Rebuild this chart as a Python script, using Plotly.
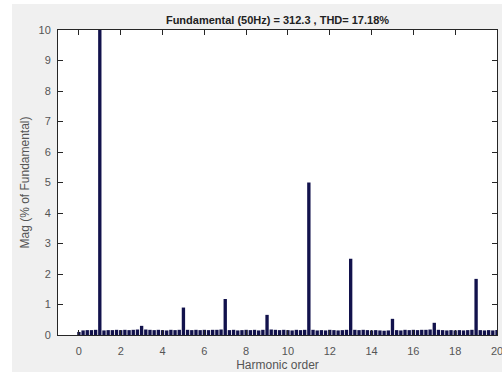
import plotly.graph_objects as go

# Harmonic order (0 to 20, step 0.2) and magnitude (% of fundamental)
orders = [round(i * 0.2, 1) for i in range(101)]
mags = [
    0.10, 0.15, 0.16, 0.16, 0.17, 100.0,   # 0.0 - 1.0
    0.15, 0.16, 0.16, 0.17, 0.16,          # 1.2 - 2.0
    0.17, 0.16, 0.17, 0.18, 0.30,          # 2.2 - 3.0
    0.18, 0.17, 0.16, 0.17, 0.16,          # 3.2 - 4.0
    0.15, 0.17, 0.16, 0.17, 0.90,          # 4.2 - 5.0
    0.17, 0.16, 0.17, 0.16, 0.17,          # 5.2 - 6.0
    0.16, 0.17, 0.17, 0.18, 1.18,          # 6.2 - 7.0
    0.16, 0.17, 0.15, 0.16, 0.17,          # 7.2 - 8.0
    0.16, 0.17, 0.15, 0.17, 0.66,          # 8.2 - 9.0
    0.18, 0.17, 0.16, 0.17, 0.16,          # 9.2 - 10.0
    0.15, 0.17, 0.16, 0.17, 5.00,          # 10.2 - 11.0
    0.17, 0.15, 0.16, 0.15, 0.17,          # 11.2 - 12.0
    0.16, 0.15, 0.16, 0.17, 2.50,          # 12.2 - 13.0
    0.17, 0.16, 0.17, 0.16, 0.15,          # 13.2 - 14.0
    0.16, 0.15, 0.14, 0.15, 0.53,          # 14.2 - 15.0
    0.16, 0.15, 0.17, 0.16, 0.17,          # 15.2 - 16.0
    0.16, 0.17, 0.17, 0.18, 0.40,          # 16.2 - 17.0
    0.17, 0.16, 0.15, 0.16, 0.15,          # 17.2 - 18.0
    0.16, 0.15, 0.16, 0.17, 1.84,          # 18.2 - 19.0
    0.16, 0.15, 0.16, 0.15, 0.16,          # 19.2 - 20.0
]
x_ticks = [0, 2, 4, 6, 8, 10, 12, 14, 16, 18, 20]
y_ticks = [0, 1, 2, 3, 4, 5, 6, 7, 8, 9, 10]
title_text = "Fundamental (50Hz) = 312.3 , THD= 17.18%"

fig = go.Figure(
    go.Bar(
        x=orders,
        y=mags,
        marker=dict(color="#12124c", line=dict(width=0)),
        hoverinfo="x+y",
    )
)

font_family = "Liberation Sans, Arial, sans-serif"
axis_common = dict(
    showline=True,
    linecolor="#262626",
    linewidth=1,
    mirror="ticks",
    ticks="inside",
    ticklen=5,
    tickcolor="#262626",
    showgrid=False,
    zeroline=False,
    automargin=False,
    ticklabeloverflow="allow",
    tickfont=dict(family=font_family, size=11, color="#555555"),
)

fig.update_layout(
    width=502,
    height=372,
    margin=dict(l=58, r=5, t=30, b=37),
    paper_bgcolor="#f0f0f0",
    plot_bgcolor="#ffffff",
    bargap=0.2,
    showlegend=False,
    title=dict(
        text="<b>" + title_text + "</b>",
        x=(58 + 497) / 2 / 502,
        xanchor="center",
        y=1 - 20 / 372,
        yanchor="middle",
        font=dict(family=font_family, size=11, color="#222222"),
    ),
    xaxis=dict(
        range=[-1, 20.0001],
        tickvals=x_ticks,
        ticklabelstandoff=6,
        title=dict(text="Harmonic order", standoff=5,
                   font=dict(family=font_family, size=12, color="#555555")),
        **axis_common,
    ),
    yaxis=dict(
        range=[0, 10],
        tickvals=y_ticks,
        ticklabelstandoff=4,
        title=dict(text="Mag (% of Fundamental)", standoff=6,
                   font=dict(family=font_family, size=12, color="#555555")),
        **axis_common,
    ),
    shapes=[
        dict(type="rect", xref="paper", yref="paper",
             x0=-58 / 439, x1=(12 - 58) / 439, y0=-37 / 305, y1=335 / 305,
             fillcolor="#ffffff", line=dict(width=0), layer="below"),
        dict(type="rect", xref="paper", yref="paper",
             x0=-58 / 439, x1=444 / 439, y0=(335 - 4) / 305, y1=335 / 305,
             fillcolor="#ffffff", line=dict(width=0), layer="below"),
    ],
)

fig.write_html("out.html")
